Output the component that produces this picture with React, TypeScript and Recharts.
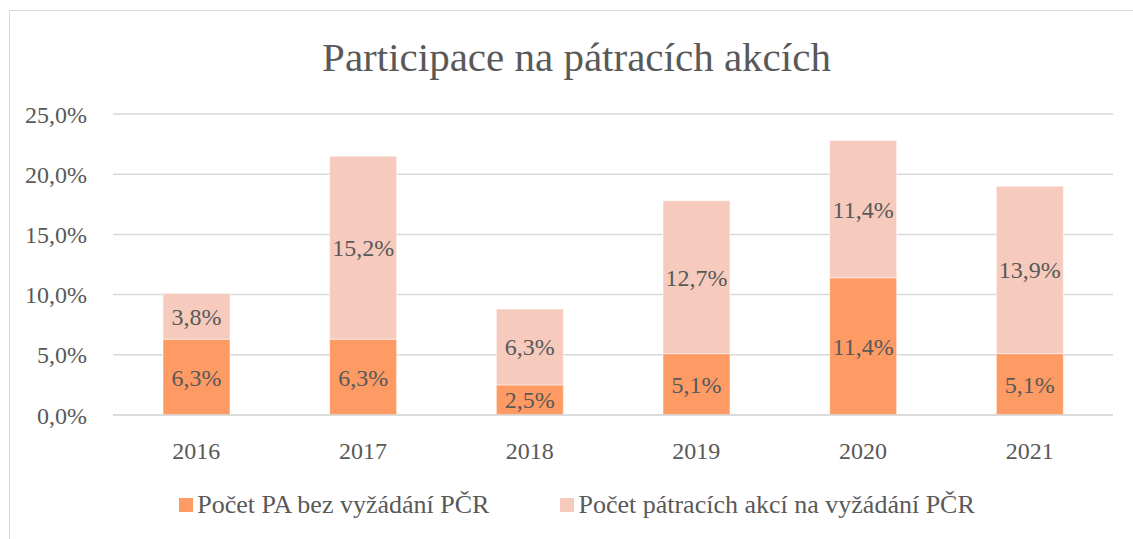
import React from "react";
import { BarChart, Bar, XAxis, YAxis, CartesianGrid, LabelList } from "recharts";

const years = ["2016", "2017", "2018", "2019", "2020", "2021"];
const bezVyzadani = [6.3, 6.3, 2.5, 5.1, 11.4, 5.1];
const naVyzadani = [3.8, 15.2, 6.3, 12.7, 11.4, 13.9];
const yTicks = [0, 5, 10, 15, 20, 25];
const seriesNames = ["Počet PA bez vyžádání PČR", "Počet pátracích akcí na vyžádání PČR"];
const title = "Participace na pátracích akcích";

const data = years.map((y, i) => ({ year: y, a: bezVyzadani[i], b: naVyzadani[i] }));

const FONT = "'Liberation Serif', serif";
const TEXT = "#595959";
const C1 = "#FE9A63";
const C2 = "#F6CBBD";

const fmt = (v: number) => v.toFixed(1).replace(".", ",") + "%";

export default function App() {
  return (
    <div style={{ position: "fixed", left: 0, top: 0, width: 1133, height: 539, background: "#fff", overflow: "hidden" }}>
      <div style={{ position: "absolute", left: 9, top: 10, width: 1200, height: 600, borderLeft: "1.5px solid #d9d9d9", borderTop: "1.5px solid #d9d9d9" }} />
      <div style={{ position: "absolute", left: 0, width: 1153, top: 33, lineHeight: "48px", textAlign: "center", fontFamily: FONT, fontSize: 41, color: TEXT }}>
        {title}
      </div>
      <div style={{ position: "absolute", left: 0, top: 0 }}>
        <BarChart width={1133} height={539} data={data} margin={{ top: 114, right: 20, bottom: 94, left: 0 }} barCategoryGap="30%">
          <CartesianGrid vertical={false} stroke="#d9d9d9" strokeWidth={1.5} />
          <XAxis dataKey="year" height={30} axisLine={{ stroke: "#d9d9d9", strokeWidth: 1.5 }} tickLine={false} tickSize={0} tickMargin={27}
            tick={{ fill: TEXT, fontFamily: FONT, fontSize: 24 }} />
          <YAxis width={113} domain={[0, 25]} ticks={yTicks} axisLine={false} tickLine={false} tickSize={0} tickMargin={26}
            tickFormatter={fmt} tick={{ fill: TEXT, fontFamily: FONT, fontSize: 24 }} />
          <Bar dataKey="a" stackId="s" fill={C1} stroke="#fff" strokeWidth={0.5} isAnimationActive={false}>
            <LabelList dataKey="a" position="center" formatter={(v: any) => fmt(Number(v))} fill={TEXT} style={{ fontFamily: FONT, fontSize: 24 }} />
          </Bar>
          <Bar dataKey="b" stackId="s" fill={C2} stroke="#fff" strokeWidth={0.5} isAnimationActive={false}>
            <LabelList dataKey="b" position="center" formatter={(v: any) => fmt(Number(v))} fill={TEXT} style={{ fontFamily: FONT, fontSize: 24 }} />
          </Bar>
        </BarChart>
      </div>
      <div style={{ position: "absolute", left: 0, width: 1154, top: 490, height: 30, display: "flex", justifyContent: "center", alignItems: "center", gap: 71, fontFamily: FONT, fontSize: 26, color: TEXT }}>
        {[C1, C2].map((c, i) => (
          <div key={i} style={{ display: "flex", alignItems: "center" }}>
            <span style={{ display: "inline-block", width: 14, height: 14, background: c, marginRight: 4 }} />
            <span>{seriesNames[i]}</span>
          </div>
        ))}
      </div>
    </div>
  );
}
